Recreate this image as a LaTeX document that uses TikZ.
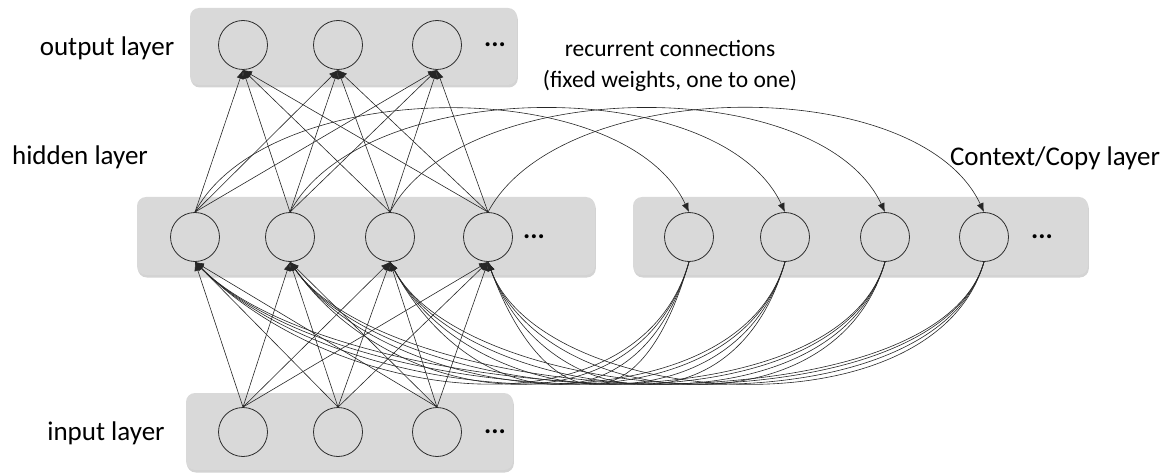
\documentclass[tikz,border=0pt]{standalone}
\usepackage{fontspec}
\setmainfont{Carlito}
\definecolor{layergray}{RGB}{217, 217, 217}
\definecolor{unitline}{RGB}{45, 45, 45}
\usetikzlibrary{arrows.meta, shadows}
\tikzstyle{layerbox} = [fill=layergray, rounded corners=9pt,
                        drop shadow={shadow xshift=0.8pt, shadow yshift=-2.5pt, opacity=0.35}]
\tikzstyle{unit} = [draw=unitline, circle, minimum size=49pt, inner sep=0pt, line width=0.8pt]
\tikzstyle{link} = [-{Latex[length=9pt, width=7pt]}, line width=0.6pt, black!85]
\tikzstyle{layerlabel} = [font=\fontsize{27}{30}\selectfont, inner sep=0pt]
\tikzstyle{more} = [font=\fontsize{27}{30}\selectfont\bfseries, inner sep=0pt]

\begin{document}
\begin{tikzpicture}[x=1pt, y=1pt]
                    \useasboundingbox (0, 0) rectangle (1169, -473);
                    % layer boxes
                    \node[layerbox, minimum width=327pt, minimum height=77pt] (outbox) at (353.5, -46.5) {};
                    \node[layerbox, minimum width=458pt, minimum height=78pt] (hidbox) at (366, -236) {};
                    \node[layerbox, minimum width=455pt, minimum height=78pt] (ctxbox) at (860.5, -236) {};
                    \node[layerbox, minimum width=327pt, minimum height=77pt] (inbox) at (349.5, -431.5) {};
                    % units
                    \node[unit] (o1) at (243, -45) {};
                    \node[unit] (o2) at (338, -45) {};
                    \node[unit] (o3) at (437, -45) {};
                    \node[more] (odots) at (495, -45) {...};
                    \node[unit] (h1) at (195, -237) {};
                    \node[unit] (h2) at (290, -237) {};
                    \node[unit] (h3) at (390, -237) {};
                    \node[unit] (h4) at (488, -237) {};
                    \node[more] (hdots) at (534, -237) {...};
                    \node[unit] (c1) at (689, -237) {};
                    \node[unit] (c2) at (785, -237) {};
                    \node[unit] (c3) at (885, -237) {};
                    \node[unit] (c4) at (984, -237) {};
                    \node[more] (cdots) at (1042, -237) {...};
                    \node[unit] (i1) at (243, -432) {};
                    \node[unit] (i2) at (338, -432) {};
                    \node[unit] (i3) at (437, -432) {};
                    \node[more] (idots) at (495, -432) {...};
                    % labels
                    \node[layerlabel] (outlabel) at (107, -48) {output layer};
                    \node[layerlabel] (hidlabel) at (80, -157) {hidden layer};
                    \node[layerlabel] (inlabel) at (106, -433) {input layer};
                    \node[layerlabel] (ctxlabel) at (1055, -158) {Context/Copy layer};
                    \node[font=\fontsize{23.5}{31}\selectfont, align=center, inner sep=0pt] (recurlabel)
                        at (670, -66) {recurrent connections\\(fixed weights, one to one)};
                    % connections
                    \foreach \h in {1,...,4}
                        \foreach \o in {1,...,3}
                            \draw[link] (h\h.north) -- (o\o.south);
                    \foreach \i in {1,...,3}
                        \foreach \h in {1,...,4}
                            \draw[link] (i\i.north) -- (h\h.south);
                    \foreach \k in {1,...,4}
                        \draw[link] (h\k.north) to[out=62, in=115, looseness=0.8] (c\k.north);
                    \foreach \c in {1,...,4}
                        \foreach \h/\ang/\len in {1/-45/206, 2/-55/178, 3/-62/165, 4/-70/155}
                            \draw[link] (c\c.south) .. controls +(-106:185) and +(\ang:\len) .. (h\h.south);
                \end{tikzpicture}
\end{document}
